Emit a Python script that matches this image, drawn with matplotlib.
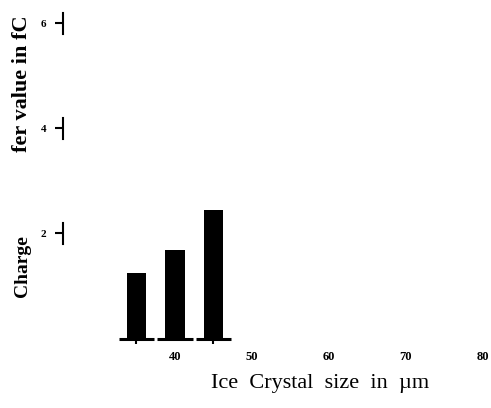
import matplotlib
matplotlib.use("Agg")
import matplotlib.pyplot as plt

# data
crystal_size = [35, 40, 45]          # um
charge = [1.25, 1.68, 2.44]          # fC
x_ticks = [40, 50, 60, 70, 80]
y_ticks = [2, 4, 6]
bar_marks = [35, 45]

plt.rcParams['font.family'] = ['Liberation Serif', 'DejaVu Serif']

fig = plt.figure(figsize=(4.91, 4.08), dpi=100)
ax = fig.add_axes([0.128, 0.1544, 0.872, 0.833])

ax.bar(crystal_size, charge, width=2.5, color='black')
# baseline pieces under the bars
for x in crystal_size:
    ax.plot([x - 2.3, x + 2.3], [0, 0], color='black', lw=2.2,
            solid_capstyle='butt', clip_on=False)
# little marks hanging from the baseline
ax.vlines(bar_marks, -0.1, 0, color='black', lw=1.5, clip_on=False)

ax.set_xlim(25.45, 81.04)
ax.set_ylim(-0.12, 6.34)

for s in ax.spines.values():
    s.set_visible(False)

ax.set_xticks(x_ticks)
ax.set_xticklabels([str(v) for v in x_ticks], fontsize=9, fontweight='bold')
ax.tick_params(axis='x', length=0, pad=4)

# y axis: short broken segments around each tick
ax.set_yticks(y_ticks)
ax.set_yticklabels([str(v) for v in y_ticks], fontsize=8, fontweight='bold')
ax.tick_params(axis='y', length=6, width=1.5, pad=6)
for t in y_ticks:
    ax.plot([25.45, 25.45], [t - 0.2, t + 0.2], color='black', lw=1.5,
            clip_on=False)

fig.text(0.652, 0.06, 'Ice  Crystal  size  in  \u00b5m', fontsize=16,
         ha='center', va='center')

fig.text(0.045, 0.348, 'Charge', rotation=90, fontsize=14, fontweight='bold',
         ha='center', va='center')
fig.text(0.045, 0.794, 'fer value in fC', rotation=90, fontsize=16,
         fontweight='bold', ha='center', va='center')

fig.savefig('out.png', dpi=100)
